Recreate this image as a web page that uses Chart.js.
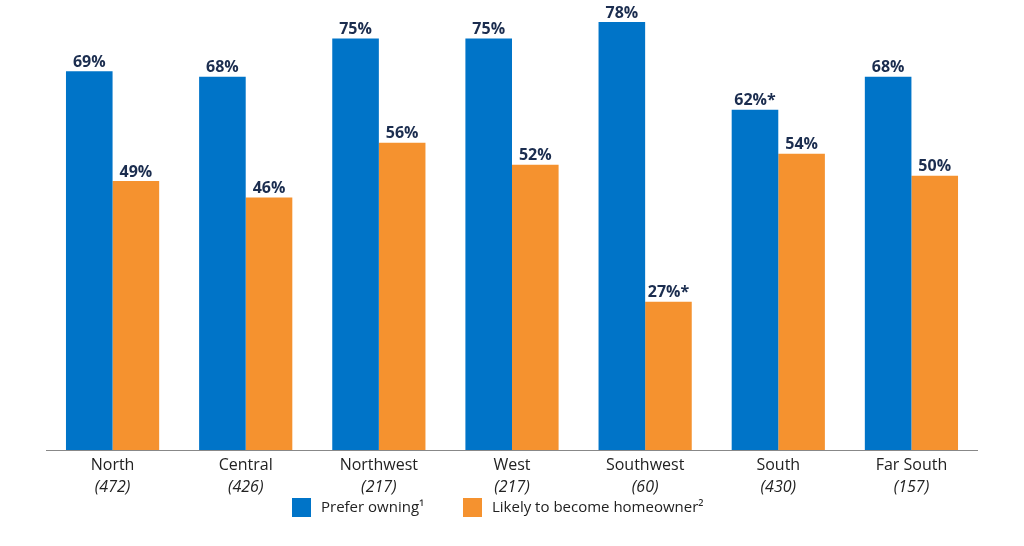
<!DOCTYPE html>
<html><head><meta charset="utf-8">
<script src="https://cdn.jsdelivr.net/npm/chart.js@4"></script>
<style>body{margin:0;background:#fff}#wrap{width:1024px;height:546px}</style>
</head><body><div id="wrap"><canvas id="myChart"></canvas></div>
<script>
const regions = ['North','Central','Northwest','West','Southwest','South','Far South'];
const counts = ['(472)','(426)','(217)','(217)','(60)','(430)','(157)'];
const preferOwning = [69,68,75,75,78,62,68];
const likelyOwner = [49,46,56,52,27,54,50];
const preferLabels = ['69%','68%','75%','75%','78%','62%*','68%'];
const likelyLabels = ['49%','46%','56%','52%','27%*','54%','50%'];
const seriesNames = ['Prefer owning\u00b9', 'Likely to become homeowner\u00b2'];
const colours = ['#0074c8', '#f5922f'];

const labelPlugin = {
  id: 'labels',
  afterDatasetsDraw(chart) {
    const c = chart.ctx;
    c.save();
    c.fillStyle = '#1b2d4f';
    c.font = 'bold 16px "Open Sans"';
    c.textAlign = 'center';
    c.textBaseline = 'bottom';
    [preferLabels, likelyLabels].forEach((labs, d) => {
      chart.getDatasetMeta(d).data.forEach((bar, i) => {
        c.fillText(labs[i], bar.x, bar.y - 1);
      });
    });
    const x = chart.scales.x, a = chart.chartArea;
    c.strokeStyle = '#888'; c.lineWidth = 1;
    c.beginPath(); c.moveTo(a.left, a.bottom + 0.5); c.lineTo(a.right, a.bottom + 0.5); c.stroke();
    c.fillStyle = '#222'; c.textBaseline = 'top';
    regions.forEach((r, i) => {
      const px = x.getPixelForValue(i);
      c.font = '16px "Open Sans"';
      c.fillText(r, px, a.bottom + 7);
      c.font = 'italic 16px "Open Sans"';
      c.fillText(counts[i], px, a.bottom + 29);
    });
    // legend
    c.font = '15px "Open Sans"';
    c.textAlign = 'left'; c.textBaseline = 'middle';
    const lx = [292, 463];
    seriesNames.forEach((n, i) => {
      c.fillStyle = colours[i];
      c.fillRect(lx[i], 498, 19, 19);
      c.fillStyle = '#222';
      c.fillText(n, lx[i] + 29, 508);
    });
    c.restore();
  }
};

new Chart(document.getElementById('myChart'), {
  type: 'bar',
  data: {
    labels: regions,
    datasets: [
      { label: seriesNames[0], data: preferOwning, backgroundColor: colours[0] },
      { label: seriesNames[1], data: likelyOwner, backgroundColor: colours[1] }
    ]
  },
  options: {
    responsive: true, maintainAspectRatio: false, animation: false,
    layout: { padding: { left: 46, right: 46, top: 11, bottom: 96 } },
    datasets: { bar: { categoryPercentage: 0.7, barPercentage: 1 } },
    scales: {
      x: { display: false },
      y: { display: false, min: 0, max: 80 }
    },
    plugins: {
      tooltip: { enabled: false },
      legend: { display: false }
    }
  },
  plugins: [labelPlugin]
});
</script></body></html>
